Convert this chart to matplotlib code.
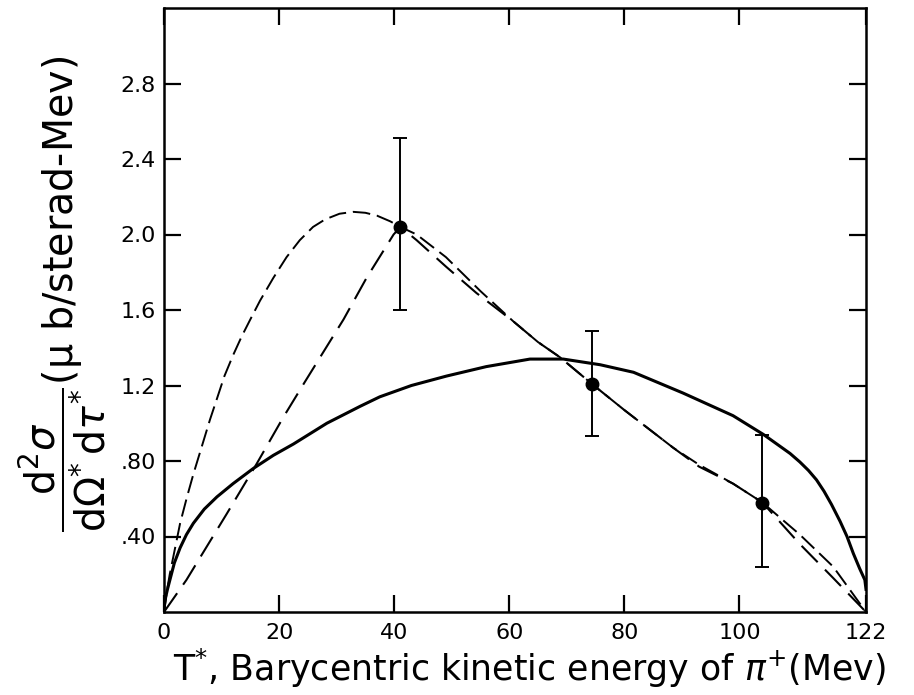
import matplotlib
matplotlib.use("Agg")
import matplotlib.pyplot as plt

# Measured points with error bars
pt_x = [41.1, 74.3, 104.0]
pt_y = [2.04, 1.21, 0.58]
pt_lo = [1.60, 0.93, 0.24]
pt_hi = [2.51, 1.49, 0.94]

# Solid theory curve
solid_x = [0, 0.3, 0.6, 1, 1.8, 2.8, 3.9, 5.1, 7, 9.2, 12, 15.5, 19, 22.5, 28.3, 34.1,
           37.5, 43, 49.1, 56, 63.6, 69.4, 75.8, 81.6, 90.2, 98.9, 104.2, 106.5, 108.8,
           110.5, 112, 113.4, 114.7, 116, 117.5, 118.7, 119.8, 120.9, 121.8, 122]
solid_y = [0.02, 0.08, 0.12, 0.167, 0.26, 0.34, 0.41, 0.47, 0.545, 0.61, 0.68, 0.76,
           0.83, 0.89, 1.00, 1.09, 1.14, 1.20, 1.25, 1.30, 1.34, 1.34, 1.31, 1.27, 1.16,
           1.04, 0.94, 0.89, 0.84, 0.795, 0.75, 0.70, 0.64, 0.57, 0.48, 0.40, 0.31, 0.23,
           0.17, 0.12]

# Peaked dashed curve
peak_x = [0, 0.5, 1, 2, 2.8, 4, 5.1, 6.5, 8, 9.2, 10.5, 12, 13.5, 15, 16.7, 19, 21.3,
          23.6, 25.9, 28, 30.5, 32.9, 35, 37, 39.3, 41.1, 43.9, 49, 55, 60.7, 65, 68.8,
          74.3, 80, 88.5, 93, 98.9, 104, 110.5, 116.3, 122]
peak_y = [0, 0.11, 0.20, 0.35, 0.47, 0.61, 0.73, 0.87, 1.02, 1.13, 1.25, 1.36, 1.46,
          1.55, 1.65, 1.77, 1.88, 1.97, 2.04, 2.08, 2.11, 2.12, 2.115, 2.10, 2.07, 2.04,
          2.00, 1.88, 1.70, 1.54, 1.43, 1.35, 1.21, 1.07, 0.87, 0.78, 0.68, 0.58, 0.41,
          0.24, 0]

# Nearly straight dashed curve
line_x = [0, 3.9, 10.9, 16.1, 20.7, 24.5, 31.2, 35.2, 39.9, 41.1, 43.9, 49, 54.3,
          60.7, 65, 68.8, 74.3, 80, 88.5, 93, 98.9, 104, 110.5, 116.3, 122]
line_y = [0, 0.17, 0.52, 0.785, 1.03, 1.22, 1.55, 1.77, 2.00, 2.04, 1.97, 1.83, 1.69,
          1.54, 1.43, 1.35, 1.21, 1.07, 0.87, 0.77, 0.68, 0.58, 0.36, 0.18, 0]

xticks = [0, 20, 40, 60, 80, 100, 122]
yticks = [0.4, 0.8, 1.2, 1.6, 2.0, 2.4, 2.8]
ytick_labels = [".40", ".80", "1.2", "1.6", "2.0", "2.4", "2.8"]

fig = plt.figure(figsize=(9.14, 6.95), dpi=100)
ax = fig.add_axes([164 / 914, 1 - 612 / 695, (866 - 164) / 914, (612 - 8) / 695])

ax.plot(solid_x, solid_y, color="black", lw=2.2)
ax.plot(peak_x, peak_y, color="black", lw=1.4, dashes=(9, 3.5))
ax.plot(line_x, line_y, color="black", lw=1.5, dashes=(11, 5))

err = [[y - lo for y, lo in zip(pt_y, pt_lo)], [hi - y for y, hi in zip(pt_y, pt_hi)]]
ax.errorbar(pt_x, pt_y, yerr=err, fmt="o", color="black", ms=9, elinewidth=1.4,
            capsize=5, capthick=1.4)

ax.set_xlim(0, 122)
ax.set_ylim(0, 3.2)
ax.set_xticks(xticks)
ax.set_xticklabels([str(t) for t in xticks])
ax.set_yticks(yticks)
ax.set_yticklabels(ytick_labels)
ax.tick_params(direction="in", length=12, width=1.6, top=True, right=True,
               labelsize=16, pad=8)
ax.tick_params(axis="y", pad=6)
for s in ax.spines.values():
    s.set_linewidth(1.8)

fig.text(530 / 914, 1 - 681 / 695,
         r"T$^{*}$, Barycentric kinetic energy of $\pi^{+}$(Mev)",
         ha="center", va="baseline", fontsize=25)
fig.text(62 / 914, 1 - 294 / 695,
         r"$\dfrac{\mathrm{d}^2\sigma}{\mathrm{d}\Omega^{*}\,\mathrm{d}\tau^{*}}$(μ b/sterad-Mev)",
         ha="center", va="center", rotation=90, fontsize=28.5)

fig.savefig("out.png", dpi=100)
